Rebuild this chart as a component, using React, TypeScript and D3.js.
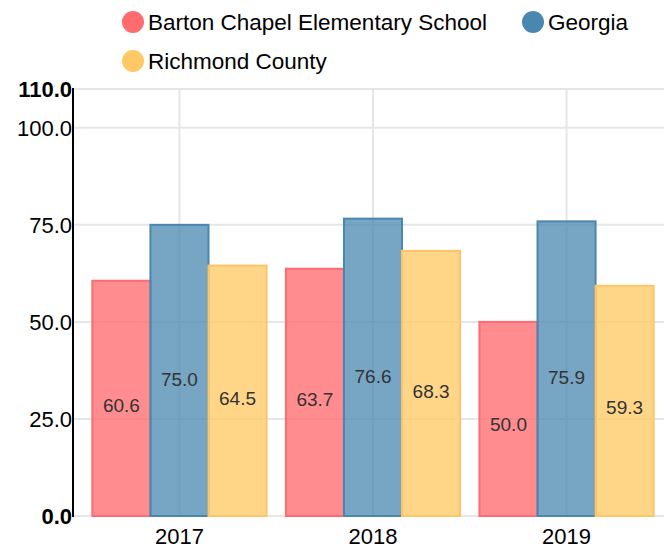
import React, { useRef, useEffect } from "react";
import * as d3 from "d3";

const years = ["2017", "2018", "2019"];
const seriesNames = ["Barton Chapel Elementary School", "Georgia", "Richmond County"];
const bartonValues = [60.6, 63.7, 50.0];
const georgiaValues = [75.0, 76.6, 75.9];
const richmondValues = [64.5, 68.3, 59.3];
const yTicks = [0, 25, 50, 75, 100, 110];

const fills = ["#ff6b6f", "#4a87b0", "#ffc966"];
const strokes = ["#ff6b6f", "#4a87b0", "#fdc567"];

export default function App() {
  const svgRef = useRef<SVGSVGElement>(null);

  useEffect(() => {
    if (!svgRef.current) return;
    const svg = d3.select(svgRef.current);
    svg.selectAll("*").remove();

    const width = 664;
    const left = 73;
    const top = 89;
    const bottom = 516;
    const font = "'Liberation Sans', Arial, sans-serif";

    const values = [bartonValues, georgiaValues, richmondValues];

    const x0 = d3.scaleBand().domain(years).range([left, left + 600]).padding(0.1);
    const x1 = d3.scaleBand().domain(seriesNames).range([0, x0.bandwidth()]);
    const y = d3.scaleLinear().domain([0, 110]).range([bottom, top]);

    // grid
    const grid = svg.append("g");
    grid
      .selectAll("line.h")
      .data(yTicks)
      .enter()
      .append("line")
      .attr("x1", left)
      .attr("x2", width)
      .attr("y1", (d) => y(d))
      .attr("y2", (d) => y(d))
      .attr("stroke", "#e6e6e6")
      .attr("stroke-width", 2);
    grid
      .selectAll("line.v")
      .data(years)
      .enter()
      .append("line")
      .attr("x1", (d) => (x0(d) || 0) + x0.bandwidth() / 2)
      .attr("x2", (d) => (x0(d) || 0) + x0.bandwidth() / 2)
      .attr("y1", top)
      .attr("y2", bottom)
      .attr("stroke", "#e6e6e6")
      .attr("stroke-width", 2);

    // bars
    const rows = years.flatMap((yr, i) =>
      seriesNames.map((s, j) => ({ yr, s, j, v: values[j][i] }))
    );
    svg
      .append("g")
      .selectAll("rect")
      .data(rows)
      .enter()
      .append("rect")
      .attr("x", (d) => (x0(d.yr) || 0) + (x1(d.s) || 0))
      .attr("y", (d) => y(d.v))
      .attr("width", x1.bandwidth())
      .attr("height", (d) => y(0) - y(d.v))
      .attr("fill", (d) => fills[d.j])
      .attr("fill-opacity", (d) => (d.j === 1 ? 0.75 : 0.78))
      .attr("stroke", (d) => strokes[d.j])
      .attr("stroke-width", 2);

    svg
      .append("g")
      .selectAll("text")
      .data(rows)
      .enter()
      .append("text")
      .attr("x", (d) => (x0(d.yr) || 0) + (x1(d.s) || 0) + x1.bandwidth() / 2)
      .attr("y", (d) => y(d.v * 0.47))
      .attr("dy", "0.35em")
      .attr("text-anchor", "middle")
      .attr("font-family", font)
      .attr("font-size", 19)
      .attr("fill", "#333")
      .text((d) => d.v.toFixed(1));

    // y axis
    svg
      .append("line")
      .attr("x1", left)
      .attr("x2", left)
      .attr("y1", top - 1)
      .attr("y2", bottom + 1)
      .attr("stroke", "#000")
      .attr("stroke-width", 2);
    svg
      .append("g")
      .selectAll("text")
      .data(yTicks)
      .enter()
      .append("text")
      .attr("x", left - 1)
      .attr("y", (d) => y(d))
      .attr("dy", "0.35em")
      .attr("text-anchor", "end")
      .attr("font-family", font)
      .attr("font-size", 22)
      .attr("font-weight", (d) => (d === 0 || d === 110 ? "bold" : "normal"))
      .attr("fill", "#000")
      .text((d) => d.toFixed(1));

    // x axis labels
    svg
      .append("g")
      .selectAll("text")
      .data(years)
      .enter()
      .append("text")
      .attr("x", (d) => (x0(d) || 0) + x0.bandwidth() / 2)
      .attr("y", bottom + 20)
      .attr("dy", "0.35em")
      .attr("text-anchor", "middle")
      .attr("font-family", font)
      .attr("font-size", 22)
      .attr("fill", "#000")
      .text((d) => d);

    // legend
    const legendPos = [
      { x: 133, y: 22 },
      { x: 533, y: 22 },
      { x: 133, y: 61 },
    ];
    const legend = svg
      .append("g")
      .selectAll("g")
      .data(seriesNames)
      .enter()
      .append("g")
      .attr("transform", (_, i) => `translate(${legendPos[i].x},${legendPos[i].y})`);
    legend
      .append("circle")
      .attr("r", 11)
      .attr("fill", (_, i) => fills[i]);
    legend
      .append("text")
      .attr("x", 15)
      .attr("dy", "0.35em")
      .attr("font-family", font)
      .attr("font-size", 22.5)
      .attr("fill", "#000")
      .text((d) => d);
  }, []);

  return (
    <svg
      ref={svgRef}
      width={664}
      height={547}
      style={{ position: "absolute", left: 0, top: 0, overflow: "hidden" }}
    ></svg>
  );
}
